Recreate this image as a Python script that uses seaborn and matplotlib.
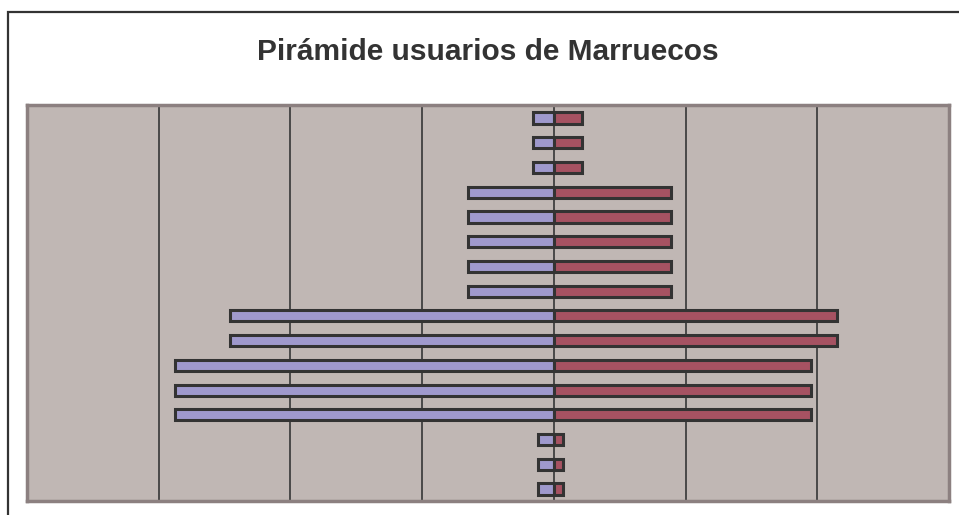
import matplotlib
matplotlib.use("Agg")
import matplotlib.pyplot as plt
import matplotlib.patches as mpatches
import numpy as np
import pandas as pd
import seaborn as sns

# grupos de edad (de arriba hacia abajo) y valores por sexo
grupos = ["75+", "70-74", "65-69", "60-64", "55-59", "50-54", "45-49", "40-44",
          "35-39", "30-34", "25-29", "20-24", "15-19", "10-14", "5-9", "0-4"]
hombres = [1.6, 1.6, 1.6, 6.5, 6.5, 6.5, 6.5, 6.5, 24.6, 24.6, 28.8, 28.8, 28.8, 1.2, 1.2, 1.2]
mujeres = [2.1, 2.1, 2.1, 8.9, 8.9, 8.9, 8.9, 8.9, 21.5, 21.5, 19.5, 19.5, 19.5, 0.7, 0.7, 0.7]

df = pd.DataFrame({"grupo": grupos,
                   "hombres": [-v for v in hombres],
                   "mujeres": mujeres})

sns.set_style("white")
plt.rcParams["font.family"] = ["Liberation Sans", "DejaVu Sans"]

fig = plt.figure(figsize=(9.59, 5.15), dpi=100)
ax = fig.add_axes([27 / 959, 1 - 501 / 515, 922 / 959, 396 / 515])

bg = "#C0B7B4"
ax.set_facecolor(bg)

sns.barplot(data=df, y="grupo", x="hombres", orient="h", color="#9F99CD",
            width=0.45, edgecolor="#333333", linewidth=2.2, saturation=1, ax=ax)
sns.barplot(data=df, y="grupo", x="mujeres", orient="h", color="#A65262",
            width=0.45, edgecolor="#333333", linewidth=2.2, saturation=1, ax=ax)

ax.set_xlim(-40, 30)
ax.set_ylim(len(grupos) - 0.515, -0.526)
ax.set_xticks([-30, -20, -10, 0, 10, 20])
ax.grid(axis="x", color="#404040", linewidth=1.3)
ax.set_axisbelow(True)
ax.tick_params(left=False, bottom=False, labelleft=False, labelbottom=False)
ax.set_xlabel("")
ax.set_ylabel("")
for s in ax.spines.values():
    s.set_color("#8C8080")
    s.set_linewidth(2.5)
    s.set_visible(True)

fig.text(488 / 959, 1 - 52 / 515, "Pirámide usuarios de Marruecos",
         ha="center", va="center", fontsize=21.5, fontweight="bold", color="#333333")

# borde del grafico
fig.patches.append(mpatches.Rectangle((7.5 / 959, -0.2), 1.2, 1 - 11.5 / 515 + 0.2,
                                      transform=fig.transFigure, fill=False,
                                      edgecolor="#333333", linewidth=1.6))

fig.savefig("out.png", dpi=100)
